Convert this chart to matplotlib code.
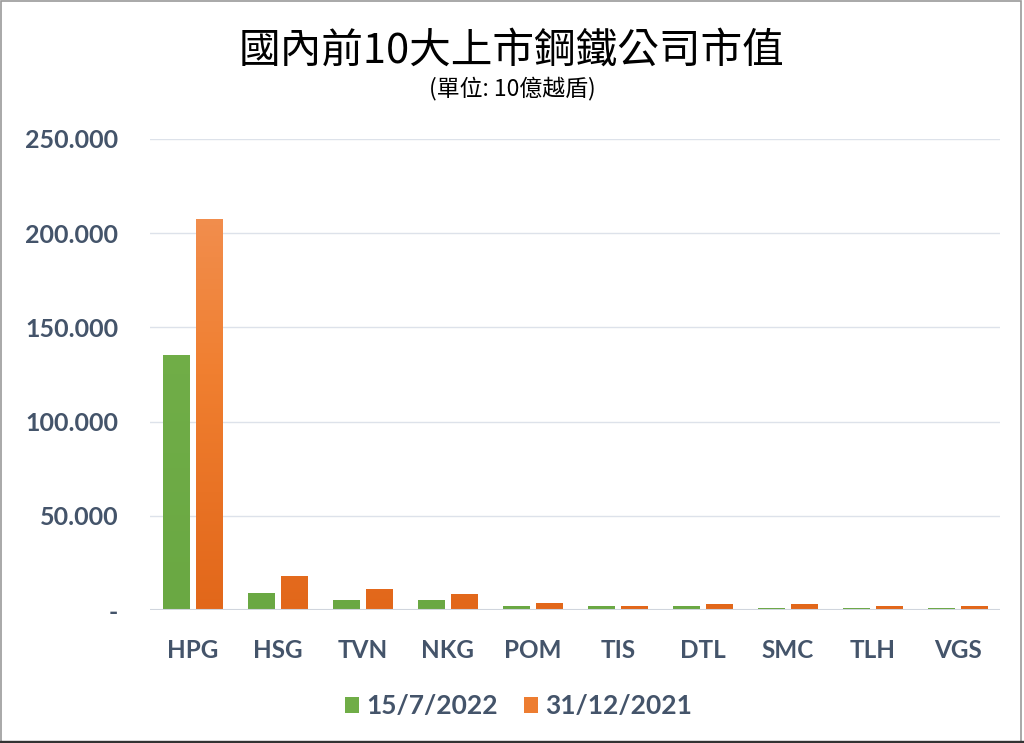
import numpy as np
import matplotlib
matplotlib.use("Agg")
import matplotlib.pyplot as plt
from matplotlib.colors import LinearSegmentedColormap
from matplotlib.patches import Rectangle

# 數據 (單位: 10億越盾)
companies = ['HPG', 'HSG', 'TVN', 'NKG', 'POM', 'TIS', 'DTL', 'SMC', 'TLH', 'VGS']
value_2022 = [135.3, 9.2, 5.5, 5.5, 2.0, 2.0, 2.1, 1.1, 1.1, 1.1]
value_2021 = [207.5, 18.0, 11.0, 8.3, 3.7, 2.1, 3.0, 3.0, 2.1, 2.1]
series_labels = ['15/7/2022', '31/12/2021']
yticks = [0, 50, 100, 150, 200, 250]
ytick_labels = ['-', '50.000', '100.000', '150.000', '200.000', '250.000']

plt.rcParams['font.family'] = ['Lato', 'DejaVu Sans']
tick_color = '#44546A'

fig = plt.figure(figsize=(10.24, 7.43), dpi=100)
ax = fig.add_axes([0.1465, 0.179, 0.8305, 0.634])

x = np.arange(len(companies))
w = 0.31
off = 0.195

green_cmap = LinearSegmentedColormap.from_list('g', ['#6AA843', '#76B24C'])
orange_cmap = LinearSegmentedColormap.from_list('o', ['#E2671A', '#F07F30', '#F2955C'])


def draw_bars(xpos, vals, cmap, color, label):
    bars = ax.bar(xpos, vals, width=w, color=color, label=label, zorder=3,
                  edgecolor='none')
    grad = np.linspace(0, 1, 256).reshape(-1, 1)
    for b in bars:
        bx, by = b.get_x(), b.get_y()
        bw, bh = b.get_width(), b.get_height()
        im = ax.imshow(grad, cmap=cmap, origin='lower', aspect='auto',
                       extent=[bx, bx + bw, 0, 250], zorder=4)
        clip = Rectangle((bx, by), bw, bh, transform=ax.transData)
        im.set_clip_path(clip)
    return bars


draw_bars(x - off, value_2022, green_cmap, '#70AD47', series_labels[0])
draw_bars(x + off, value_2021, orange_cmap, '#ED7D31', series_labels[1])

ax.set_xlim(-0.5, len(companies) - 0.5)
ax.set_ylim(0, 250)
ax.set_yticks(yticks)
ax.set_yticklabels(ytick_labels)
ax.set_xticks(x)
ax.set_xticklabels(companies)
ax.tick_params(axis='y', length=0, pad=23, labelsize=18, labelcolor=tick_color)
ax.tick_params(axis='x', length=0, pad=21, labelsize=17.5, labelcolor=tick_color)
for lbl in ax.get_xticklabels() + ax.get_yticklabels():
    lbl.set_fontweight('bold')

ax.grid(axis='y', color='#DDE2EA', linewidth=1, zorder=0)
ax.axhline(0, color='#D0D5DD', linewidth=1.5, zorder=5)
for s in ax.spines.values():
    s.set_visible(False)

leg = ax.legend(loc='upper center', bbox_to_anchor=(0.433, -0.128), ncol=2,
                frameon=False, handlelength=0.55, handleheight=0.55,
                handletextpad=0.25, columnspacing=1.0,
                prop={'size': 19, 'weight': 'bold'})
for t in leg.get_texts():
    t.set_color(tick_color)

fig.text(0.5, 0.931, '國內前10大上市鋼鐵公司市值', ha='center', va='center',
         fontsize=30, family=['Noto Sans CJK TC', 'DejaVu Sans'])
fig.text(0.5, 0.881, '(單位: 10億越盾)', ha='center', va='center',
         fontsize=16.5, family=['Noto Sans CJK TC', 'DejaVu Sans'])

# 外框
fig.patches.append(Rectangle((0.0005, 0.002), 0.997, 0.996, transform=fig.transFigure,
                             fill=False, edgecolor='#9A9A9A', linewidth=1.2))
fig.patches.append(Rectangle((0, 0), 1, 0.003, transform=fig.transFigure,
                             color='#333333'))

fig.savefig('out.png', dpi=100)
